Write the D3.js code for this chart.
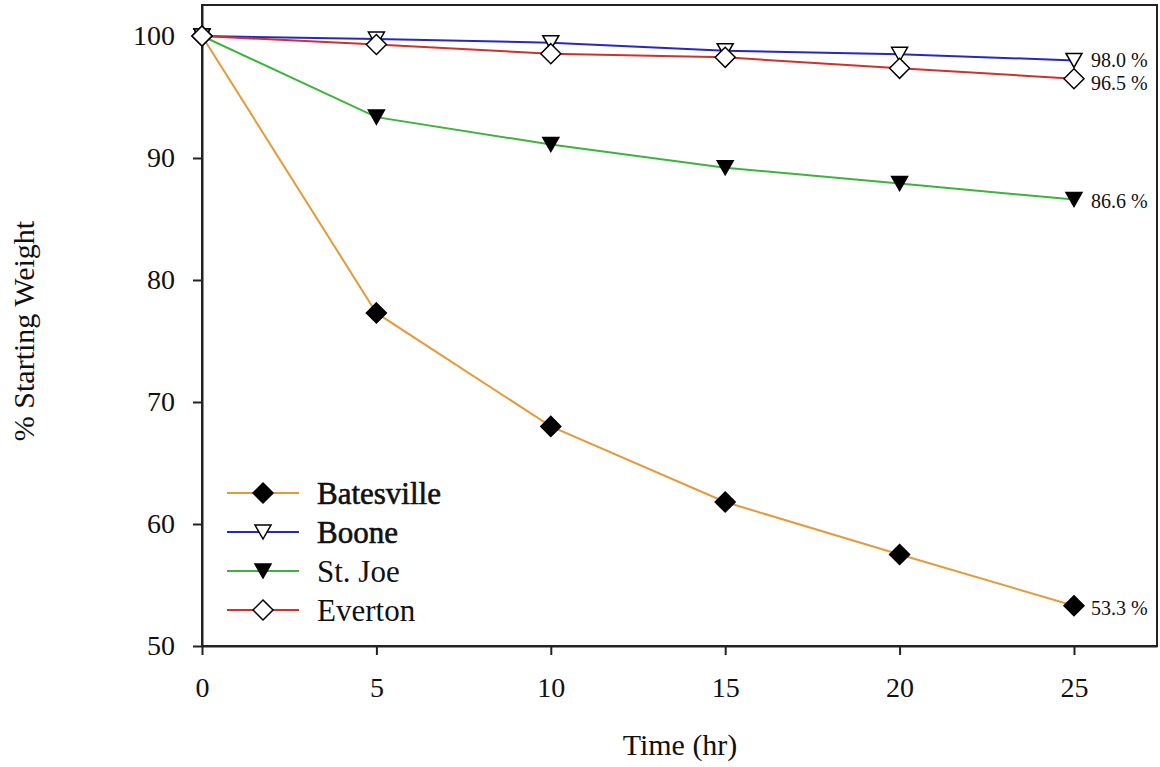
<!DOCTYPE html>
<html>
<head>
<meta charset="utf-8">
<script src="https://cdn.jsdelivr.net/npm/d3@7"></script>
<style>
  body { margin: 0; background: #fff; }
  svg text { font-family: "Liberation Serif", Tinos, "Times New Roman", Times, "DejaVu Serif", serif !important; fill: #111; }
</style>
</head>
<body>
<div id="chart"></div>
<script>
// data
const hours = [0, 5, 10, 15, 20, 25];
const batesville = [100, 77.3, 68.0, 61.8, 57.5, 53.3];
const boone = [100, 99.75, 99.45, 98.8, 98.5, 98.0];
const stJoe = [100, 93.35, 91.1, 89.2, 87.9, 86.6];
const everton = [100, 99.3, 98.55, 98.25, 97.35, 96.5];
const xTicks = [0, 5, 10, 15, 20, 25];
const yTicks = [50, 60, 70, 80, 90, 100];

const series = [
  { name: "Batesville", values: batesville, color: "#e59a3a", marker: "diamond", fill: "#000", label: "53.3 %", shadow: true },
  { name: "Boone", values: boone, color: "#2828c0", marker: "triangle", fill: "#fff", label: "98.0 %", shadow: true },
  { name: "St. Joe", values: stJoe, color: "#3cb43c", marker: "triangle", fill: "#000", label: "86.6 %" },
  { name: "Everton", values: everton, color: "#d0312d", marker: "diamond", fill: "#fff", label: "96.5 %" }
];
// small vertical nudges so the two top end labels don't collide
const labelNudge = { "Boone": -2, "Everton": 2 };

const W = 1160, H = 767;
const plotLeft = 202, plotRight = 1157, plotTop = 5, plotBottom = 646;

const svg = d3.select("#chart").append("svg")
  .attr("width", W).attr("height", H);

const x = d3.scaleLinear().domain([0, 27.38]).range([plotLeft, plotRight]);
const y = d3.scaleLinear().domain([50, 102.54]).range([plotBottom, plotTop]);

// frame
svg.append("rect")
  .attr("x", plotLeft).attr("y", plotTop)
  .attr("width", plotRight - plotLeft).attr("height", plotBottom - plotTop)
  .attr("fill", "none").attr("stroke", "#222").attr("stroke-width", 2);

// axes
const xAxis = svg.append("g")
  .attr("transform", `translate(0,${plotBottom})`)
  .call(d3.axisBottom(x).tickValues(xTicks).tickSize(9).tickPadding(22).tickSizeOuter(0));
const yAxis = svg.append("g")
  .attr("transform", `translate(${plotLeft},0)`)
  .call(d3.axisLeft(y).tickValues(yTicks).tickSize(9).tickPadding(18).tickSizeOuter(0));

[xAxis, yAxis].forEach(g => {
  g.attr("font-family", null);
  g.select(".domain").attr("stroke", "#222").attr("stroke-width", 2);
  g.selectAll(".tick line").attr("stroke", "#222").attr("stroke-width", 2);
  g.selectAll(".tick text")
    .style("font-size", "28px")
    .attr("fill", "#111");
});

// axis titles
svg.append("text")
  .attr("x", 680).attr("y", 755)
  .attr("text-anchor", "middle")
  .style("font-size", "30px")
  .text("Time (hr)");

svg.append("text")
  .attr("transform", "translate(34,331) rotate(-90)")
  .attr("text-anchor", "middle")
  .style("font-size", "30px")
  .text("% Starting Weight");

function drawMarker(g, type, cx, cy, fill) {
  if (type === "diamond") {
    const r = 10;
    g.append("path")
      .attr("d", `M${cx},${cy - r}L${cx + r},${cy}L${cx},${cy + r}L${cx - r},${cy}Z`)
      .attr("fill", fill).attr("stroke", "#000").attr("stroke-width", 1.5);
  } else {
    const w = 8, h = 14;
    g.append("path")
      .attr("d", `M${cx - w},${cy - h / 2}L${cx + w},${cy - h / 2}L${cx},${cy + h / 2}Z`)
      .attr("fill", fill).attr("stroke", "#000").attr("stroke-width", 1.5);
  }
}

const line = d3.line()
  .x((d, i) => x(hours[i]))
  .y(d => y(d));

// lines first, then markers on top
series.forEach(s => {
  svg.append("path")
    .attr("d", line(s.values))
    .attr("fill", "none")
    .attr("stroke", s.color)
    .attr("stroke-width", 2);
});

// open symbols drawn last so they sit on top like the original
[series[0], series[2], series[1], series[3]].forEach(s => {
  const g = svg.append("g");
  s.values.forEach((v, i) => drawMarker(g, s.marker, x(hours[i]), y(v), s.fill));
});

// end labels
series.forEach(s => {
  const last = s.values[s.values.length - 1];
  svg.append("text")
    .attr("x", x(25) + 17)
    .attr("y", y(last) + 9 + (labelNudge[s.name] || 0))
    .style("font-size", "20px")
    .text(s.label);
});

// legend
const legend = svg.append("g");
series.forEach((s, i) => {
  const ly = 493 + i * 39;
  legend.append("line")
    .attr("x1", 227).attr("x2", 299)
    .attr("y1", ly).attr("y2", ly)
    .attr("stroke", s.color).attr("stroke-width", 2);
  drawMarker(legend, s.marker, 263, ly, s.fill);
  const t = legend.append("text")
    .attr("x", 317).attr("y", ly + 11)
    .style("font-size", "31px")
    .text(s.name);
  if (s.shadow) t.attr("stroke", "#111").attr("stroke-width", 0.6);
});
</script>
</body>
</html>
